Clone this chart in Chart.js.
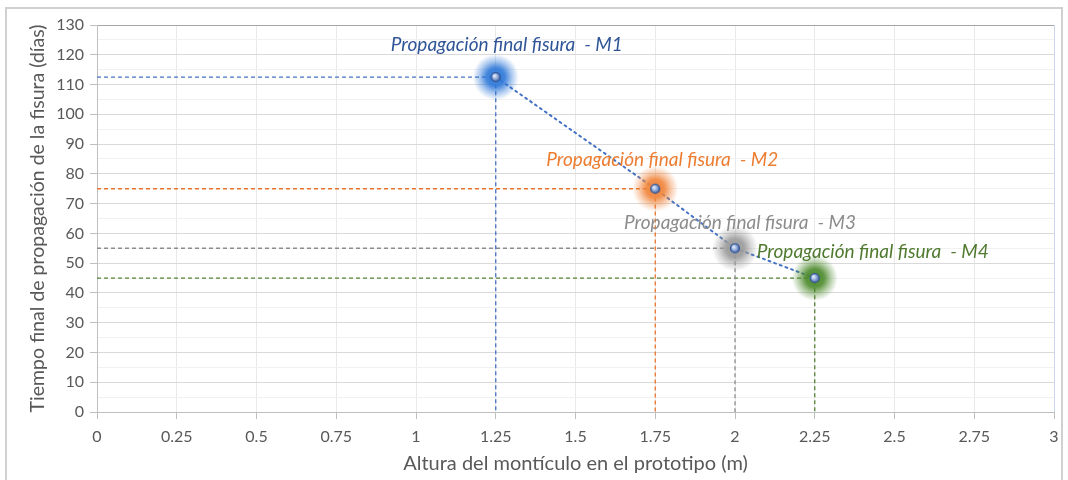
<!DOCTYPE html>
<html>
<head>
<meta charset="utf-8">
<script src="https://cdn.jsdelivr.net/npm/chart.js@4.4.1/dist/chart.umd.min.js"></script>
<style>
html, body { margin: 0; padding: 0; background: #fff; }
#wrap { position: relative; width: 1068px; height: 480px; overflow: hidden; }
#marco { position: absolute; left: 5px; top: 7px; width: 1058px; height: 520px; border: 2px solid #d0d0d0; box-sizing: border-box; }
canvas { position: absolute; left: 0; top: 0; }
</style>
</head>
<body>
<div id="wrap">
  <div id="marco"></div>
  <canvas id="grafico" width="1068" height="480"></canvas>
</div>
<script>
// datos
const alturas = [1.25, 1.75, 2, 2.25];
const tiempos = [112.5, 75, 55, 45];
const etiquetas = [
    "Propagación final fisura  - M1",
    "Propagación final fisura  - M2",
    "Propagación final fisura  - M3",
    "Propagación final fisura  - M4"
];

// estilos
const coloresBrillo = ["#2f78d8", "#f0843a", "#9a9a9a", "#4c8a2c"];
const coloresGuia = ["#4472c4", "#e8732a", "#8c8c8c", "#548235"];
const coloresTexto = ["#2f5597", "#ed7d31", "#8c8c8c", "#4f7a2f"];
const desplazamientos = [[11, -32], [7, -29], [5, -25], [58, -26]];

const fuente = "Lato, 'Open Sans', sans-serif";
const gris = "#595959";

function hexRgb(hex) {
    const n = parseInt(hex.slice(1), 16);
    return [(n >> 16) & 255, (n >> 8) & 255, n & 255];
}

function crearMarcador(color) {
    const c = document.createElement("canvas");
    c.width = 50;
    c.height = 50;
    const g = c.getContext("2d");
    const [r, v, b] = hexRgb(color);
    const grad = g.createRadialGradient(25, 25, 0, 25, 25, 23);
    grad.addColorStop(0, `rgba(${r},${v},${b},1)`);
    grad.addColorStop(0.4, `rgba(${r},${v},${b},0.9)`);
    grad.addColorStop(0.7, `rgba(${r},${v},${b},0.4)`);
    grad.addColorStop(1, `rgba(${r},${v},${b},0)`);
    g.fillStyle = grad;
    g.beginPath();
    g.arc(25, 25, 23, 0, Math.PI * 2);
    g.fill();
    // esfera central
    const esf = g.createRadialGradient(23.5, 23.5, 0.5, 25, 25, 5);
    esf.addColorStop(0, "#e8eefb");
    esf.addColorStop(0.5, "#8fa9d8");
    esf.addColorStop(1, "#2f4f8f");
    g.fillStyle = esf;
    g.beginPath();
    g.arc(25, 25, 4.5, 0, Math.PI * 2);
    g.fill();
    g.strokeStyle = "#2f5597";
    g.lineWidth = 1.2;
    g.stroke();
    return c;
}

function guia(i) {
    return {
        data: [{ x: 0, y: tiempos[i] }, { x: alturas[i], y: tiempos[i] }, { x: alturas[i], y: 0 }],
        showLine: true,
        borderColor: coloresGuia[i],
        borderWidth: 1.3,
        borderDash: [4, 3],
        pointRadius: 0,
        order: 3
    };
}

const etiquetasPlugin = {
    id: "etiquetas",
    afterDatasetsDraw(chart) {
        const meta = chart.getDatasetMeta(0);
        const ctx = chart.ctx;
        ctx.save();
        ctx.font = "italic 19px " + fuente;
        ctx.textAlign = "center";
        ctx.textBaseline = "middle";
        meta.data.forEach((p, i) => {
            ctx.fillStyle = coloresTexto[i];
            ctx.fillText(etiquetas[i], p.x + desplazamientos[i][0], p.y + desplazamientos[i][1]);
        });
        ctx.restore();
    }
};

const puntos = alturas.map((x, i) => ({ x: x, y: tiempos[i] }));

const ctx = document.getElementById("grafico").getContext("2d");
const chart = new Chart(ctx, {
    type: "scatter",
    data: {
        datasets: [
            {
                data: puntos,
                pointStyle: coloresBrillo.map(crearMarcador),
                pointRadius: 25,
                showLine: false,
                order: 1
            },
            {
                data: puntos,
                showLine: true,
                borderColor: "#4472c4",
                borderWidth: 2,
                borderDash: [2, 4],
                borderCapStyle: "round",
                pointRadius: 0,
                order: 2
            },
            guia(0), guia(1), guia(2), guia(3)
        ]
    },
    options: {
        responsive: false,
        animation: false,
        layout: { autoPadding: false, padding: { top: 25, right: 14, left: 0, bottom: 0 } },
        plugins: {
            legend: { display: false },
            tooltip: { enabled: false }
        },
        scales: {
            x: {
                type: "linear",
                min: 0,
                max: 3,
                ticks: {
                    stepSize: 0.25,
                    color: gris,
                    font: { family: fuente, size: 16 },
                    padding: 8,
                    autoSkip: false,
                    maxRotation: 0,
                    callback: v => String(Number(v.toFixed(2)))
                },
                grid: {
                    color: c => c.tick && c.tick.value === 3 ? "#c9d6ee" : "#e9e9e9",
                    tickColor: "#bfbfbf",
                    tickLength: 7
                },
                border: { color: "#bfbfbf" },
                title: {
                    display: true,
                    text: "Altura del montículo en el prototipo (m)",
                    color: gris,
                    font: { family: fuente, size: 20 },
                    padding: { top: 5 }
                },
                afterFit: s => {
                    s.height = 68;
                    s.paddingLeft = 0;
                    s.paddingRight = 0;
                }
            },
            y: {
                min: 0,
                max: 130,
                ticks: {
                    stepSize: 5,
                    color: gris,
                    font: { family: fuente, size: 16 },
                    padding: 6,
                    autoSkip: false,
                    callback: v => (v % 10 === 0 ? v : "")
                },
                grid: {
                    color: c => {
                        if (!c.tick) return "#d9d9d9";
                        if (c.tick.value === 130) return "#a6a6a6";
                        return c.tick.value % 10 === 0 ? "#d9d9d9" : "#f1f1f1";
                    },
                    tickColor: c => (c.tick && c.tick.value % 10 === 0 ? "#bfbfbf" : "rgba(0,0,0,0)"),
                    tickLength: 7
                },
                border: { color: "#bfbfbf" },
                title: {
                    display: true,
                    text: "Tiempo final de propagación de la fisura (días)",
                    color: gris,
                    font: { family: fuente, size: 19.5 },
                    padding: { top: 26, bottom: 4 }
                },
                afterFit: s => {
                    s.width = 97;
                    s.paddingTop = 0;
                    s.paddingBottom = 0;
                }
            }
        }
    },
    plugins: [etiquetasPlugin]
});
</script>
</body>
</html>
